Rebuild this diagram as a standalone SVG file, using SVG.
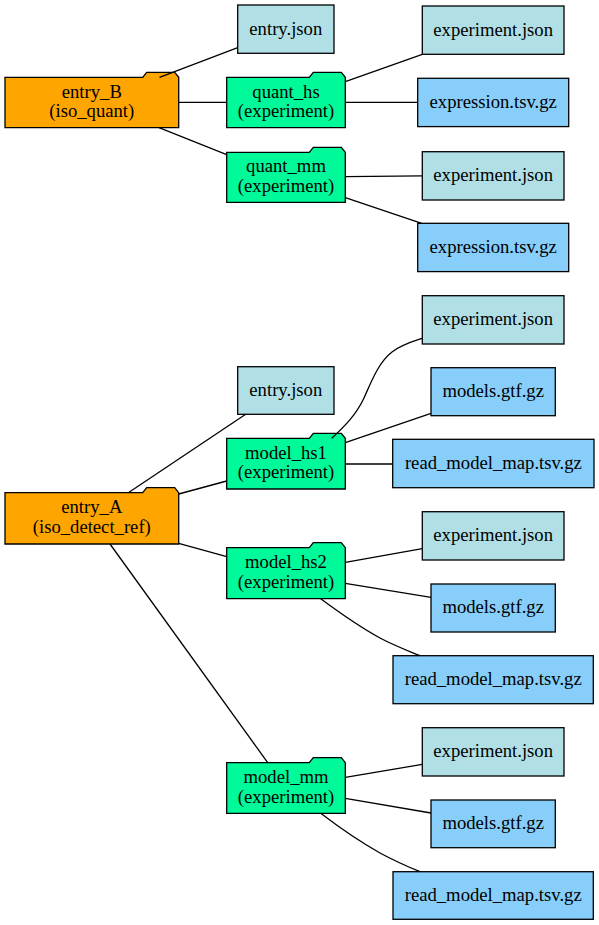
<svg xmlns="http://www.w3.org/2000/svg" width="599" height="925" viewBox="0 0 599 925">
<style>
.n{stroke:#000;stroke-width:1.3}
.entry{fill:#FFA500}
.exp{fill:#00FA9A}
.json{fill:#B0E0E6}
.data{fill:#87CEFA}
.e{fill:none;stroke:#000;stroke-width:1.3}
</style>
<rect width="599" height="925" fill="#fff"/>
<g id="entry_B"><path class="n entry" d="M5,77.3 L142.7,77.3 L146.7,72.3 L174.7,72.3 L178.7,77.3 L178.7,127.7 L5,127.7 Z"/><text style="font-family:'Liberation Serif',serif;font-size:18.67px;text-anchor:middle" x="91.8" y="97.5">entry_B</text><text style="font-family:'Liberation Serif',serif;font-size:18.67px;text-anchor:middle" x="91.8" y="117">(iso_quant)</text></g>
<g id="entry_B_json"><rect class="n json" x="237.7" y="5" width="96.3" height="48.3"/><text style="font-family:'Liberation Serif',serif;font-size:18.67px;text-anchor:middle" x="285.8" y="34.5">entry.json</text></g>
<g id="quant_hs"><path class="n exp" d="M226.7,77.3 L309.3,77.3 L313.3,72.3 L341.3,72.3 L345.3,77.3 L345.3,127.7 L226.7,127.7 Z"/><text style="font-family:'Liberation Serif',serif;font-size:18.67px;text-anchor:middle" x="286" y="97.5">quant_hs</text><text style="font-family:'Liberation Serif',serif;font-size:18.67px;text-anchor:middle" x="286" y="117">(experiment)</text></g>
<g id="quant_mm"><path class="n exp" d="M226.7,152.3 L309.3,152.3 L313.3,147.3 L341.3,147.3 L345.3,152.3 L345.3,202.3 L226.7,202.3 Z"/><text style="font-family:'Liberation Serif',serif;font-size:18.67px;text-anchor:middle" x="286" y="172.3">quant_mm</text><text style="font-family:'Liberation Serif',serif;font-size:18.67px;text-anchor:middle" x="286" y="191.8">(experiment)</text></g>
<g id="quant_hs_json"><rect class="n json" x="422.3" y="6" width="141.7" height="48.3"/><text style="font-family:'Liberation Serif',serif;font-size:18.67px;text-anchor:middle" x="493.2" y="35.5">experiment.json</text></g>
<g id="quant_hs_expr"><rect class="n data" x="417.7" y="78.3" width="151" height="48.3"/><text style="font-family:'Liberation Serif',serif;font-size:18.67px;text-anchor:middle" x="493.2" y="107.8">expression.tsv.gz</text></g>
<g id="quant_mm_json"><rect class="n json" x="422.3" y="151.7" width="141.7" height="48.3"/><text style="font-family:'Liberation Serif',serif;font-size:18.67px;text-anchor:middle" x="493.2" y="181.2">experiment.json</text></g>
<g id="quant_mm_expr"><rect class="n data" x="417.7" y="223.3" width="151" height="48.3"/><text style="font-family:'Liberation Serif',serif;font-size:18.67px;text-anchor:middle" x="493.2" y="252.8">expression.tsv.gz</text></g>
<g id="entry_A"><path class="n entry" d="M5,492.7 L142.7,492.7 L146.7,487.7 L174.7,487.7 L178.7,492.7 L178.7,544 L5,544 Z"/><text style="font-family:'Liberation Serif',serif;font-size:18.67px;text-anchor:middle" x="91.8" y="513">entry_A</text><text style="font-family:'Liberation Serif',serif;font-size:18.67px;text-anchor:middle" x="91.8" y="532.8">(iso_detect_ref)</text></g>
<g id="entry_A_json"><rect class="n json" x="237.7" y="366.7" width="96.3" height="47.6"/><text style="font-family:'Liberation Serif',serif;font-size:18.67px;text-anchor:middle" x="285.8" y="395.8">entry.json</text></g>
<g id="model_hs1"><path class="n exp" d="M226.7,438.3 L309.3,438.3 L313.3,433.3 L341.3,433.3 L345.3,438.3 L345.3,489 L226.7,489 Z"/><text style="font-family:'Liberation Serif',serif;font-size:18.67px;text-anchor:middle" x="286" y="458.5">model_hs1</text><text style="font-family:'Liberation Serif',serif;font-size:18.67px;text-anchor:middle" x="286" y="478.2">(experiment)</text></g>
<g id="model_hs2"><path class="n exp" d="M226.7,547.7 L309.3,547.7 L313.3,542.7 L341.3,542.7 L345.3,547.7 L345.3,598.7 L226.7,598.7 Z"/><text style="font-family:'Liberation Serif',serif;font-size:18.67px;text-anchor:middle" x="286" y="567.8">model_hs2</text><text style="font-family:'Liberation Serif',serif;font-size:18.67px;text-anchor:middle" x="286" y="587.6">(experiment)</text></g>
<g id="model_mm"><path class="n exp" d="M226.7,762.7 L309.3,762.7 L313.3,757.7 L341.3,757.7 L345.3,762.7 L345.3,813.3 L226.7,813.3 Z"/><text style="font-family:'Liberation Serif',serif;font-size:18.67px;text-anchor:middle" x="286" y="782.8">model_mm</text><text style="font-family:'Liberation Serif',serif;font-size:18.67px;text-anchor:middle" x="286" y="802.5">(experiment)</text></g>
<g id="model_hs1_json"><rect class="n json" x="422.3" y="295.7" width="141.7" height="48.3"/><text style="font-family:'Liberation Serif',serif;font-size:18.67px;text-anchor:middle" x="493.2" y="325.2">experiment.json</text></g>
<g id="model_hs1_gtf"><rect class="n data" x="431" y="367.7" width="124.3" height="48"/><text style="font-family:'Liberation Serif',serif;font-size:18.67px;text-anchor:middle" x="493.2" y="397">models.gtf.gz</text></g>
<g id="model_hs1_map"><rect class="n data" x="392.7" y="439.3" width="201.3" height="48.4"/><text style="font-family:'Liberation Serif',serif;font-size:18.67px;text-anchor:middle" x="493.4" y="468.8">read_model_map.tsv.gz</text></g>
<g id="model_hs2_json"><rect class="n json" x="422.3" y="511.7" width="141.7" height="48.3"/><text style="font-family:'Liberation Serif',serif;font-size:18.67px;text-anchor:middle" x="493.2" y="541.2">experiment.json</text></g>
<g id="model_hs2_gtf"><rect class="n data" x="431" y="584" width="124.3" height="48"/><text style="font-family:'Liberation Serif',serif;font-size:18.67px;text-anchor:middle" x="493.2" y="613.3">models.gtf.gz</text></g>
<g id="model_hs2_map"><rect class="n data" x="393" y="655.7" width="200.3" height="48"/><text style="font-family:'Liberation Serif',serif;font-size:18.67px;text-anchor:middle" x="493.2" y="685">read_model_map.tsv.gz</text></g>
<g id="model_mm_json"><rect class="n json" x="422.3" y="727.7" width="141.7" height="48.3"/><text style="font-family:'Liberation Serif',serif;font-size:18.67px;text-anchor:middle" x="493.2" y="757.2">experiment.json</text></g>
<g id="model_mm_gtf"><rect class="n data" x="431" y="800" width="124.3" height="47.7"/><text style="font-family:'Liberation Serif',serif;font-size:18.67px;text-anchor:middle" x="493.2" y="829.2">models.gtf.gz</text></g>
<g id="model_mm_map"><rect class="n data" x="393" y="871.7" width="200.3" height="47.6"/><text style="font-family:'Liberation Serif',serif;font-size:18.67px;text-anchor:middle" x="493.2" y="900.8">read_model_map.tsv.gz</text></g>
<g id="edges">
<path class="e" d="M159.5,77.3 L237.7,47.7"/>
<path class="e" d="M178.7,102.3 L226.7,102.3"/>
<path class="e" d="M159,127.7 L226.7,154.7"/>
<path class="e" d="M345.3,81.7 L422.3,54.3"/>
<path class="e" d="M345.3,102.3 L417.7,102.3"/>
<path class="e" d="M345.3,176.7 L422.3,175.9"/>
<path class="e" d="M345.3,197.7 L421.7,223.3"/>
<path class="e" d="M128.3,492.7 L245.7,414.3"/>
<path class="e" d="M178.7,494 L226.7,481"/>
<path class="e" d="M178.7,543.3 L226.7,556.7"/>
<path class="e" d="M110,544 L267.7,762.7"/>
<path class="e" d="M331.7,438.3 C345,426 356,415 364,398 C372,380 379,362 392,352 C401,345 411,342 422.3,338.3"/>
<path class="e" d="M345.3,442.7 L431,413.3"/>
<path class="e" d="M345.3,464 L392.7,464"/>
<path class="e" d="M345.3,562.3 L422.3,548.7"/>
<path class="e" d="M345.3,583.3 L431,597.3"/>
<path class="e" d="M320.7,598.7 C340,613 362,628 380,638 C393,645 406,650 420,655.7"/>
<path class="e" d="M345.3,777.3 L422.3,764.3"/>
<path class="e" d="M345.3,798.3 L431,813"/>
<path class="e" d="M320.7,813.3 C340,828 362,843 380,853 C393,860 406,866 420,871.7"/>
</g>
</svg>
